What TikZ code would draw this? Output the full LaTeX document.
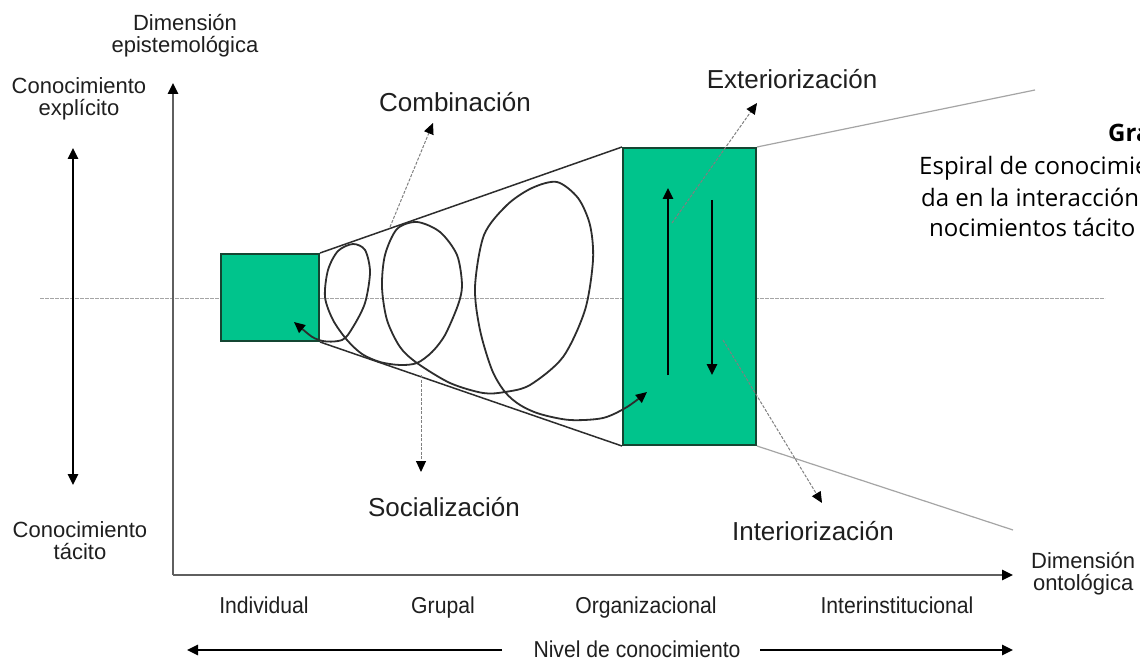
\documentclass[tikz,border=0pt]{standalone}
\usepackage{fontspec}
\setmainfont{Liberation Sans}
\newfontfamily\narrowf[FakeStretch=0.92]{Liberation Sans}
\newfontfamily\capf{Open Sans}
\usetikzlibrary{arrows.meta}
\definecolor{boxgreen}{RGB}{0,196,140}
\definecolor{boxedge}{RGB}{20,70,50}
\definecolor{axisgray}{RGB}{95,95,95}
\definecolor{guidegray}{RGB}{165,165,165}
\definecolor{linedark}{RGB}{45,45,45}
\tikzset{
 tipend/.style={-{Triangle[length=11pt,width=10pt,color=black]}},
 greenbox/.style={draw=boxedge, line width=2pt, fill=boxgreen, inner sep=0pt},
 axisline/.style={draw=axisgray, line width=2.5pt, tipend},
 blackarrow/.style={draw=black, line width=2.5pt, tipend},
 dblarrow/.style={draw=black, line width=2.5pt, {Triangle[length=11pt,width=10pt]}-{Triangle[length=11pt,width=10pt]}},
 coneline/.style={draw=linedark, line width=1.5pt},
 conext/.style={draw=guidegray, line width=1.2pt},
 midline/.style={draw=guidegray, line width=1pt, dash pattern=on 4pt off 1pt},
 pointer/.style={draw=gray, line width=1pt, dash pattern=on 3pt off 1.5pt, tipend},
 spiral/.style={draw=linedark, line width=1.8pt, {Triangle[length=11pt,width=10pt,color=black]}-{Triangle[length=11pt,width=10pt,color=black]}},
 biglabel/.style={font=\fontsize{26}{28}\selectfont, inner sep=0pt, anchor=base, text=black!88},
 smalllabel/.style={font=\fontsize{22}{22}\selectfont, align=center, inner sep=0pt, text=black!88},
 levellabel/.style={font=\narrowf\fontsize{23}{25}\selectfont, inner sep=0pt, anchor=base, text=black!88},
 captext/.style={font=\capf\fontsize{24}{26}\selectfont, inner sep=0pt, anchor=base west},
 captitle/.style={font=\capf\bfseries\fontsize{24}{26}\selectfont, inner sep=0pt, anchor=base west},
}
\begin{document}
\begin{tikzpicture}[x=1pt,y=-1pt]
\useasboundingbox (0,0) rectangle (1140,660);
\fill[white] (0,0) rectangle (1140,660);
\clip (0,0) rectangle (1140,660);

% dotted middle line
\coordinate (ml) at (40,298);
\coordinate (mr) at (1105,298);
\draw[midline] (ml) -- (mr);

% axes
\coordinate (O) at (173,575);
\coordinate (ytop) at (173,83);
\coordinate (xend) at (1013,575);
\draw[axisline] (O) -- (ytop);
\draw[axisline] (O) -- (xend);

% left double arrow
\coordinate (lt) at (73,148);
\coordinate (lb) at (73,485);
\draw[dblarrow] (lb) -- (lt);

% level arrows
\coordinate (nl) at (187,650);
\coordinate (nla) at (502,650);
\coordinate (nrb) at (760,650);
\coordinate (nr) at (1013,650);
\draw[blackarrow] (nla) -- (nl);
\draw[blackarrow] (nrb) -- (nr);

% green boxes
\node[greenbox, minimum width=98pt, minimum height=87pt] (ind) at (270,297.5) {};
\node[greenbox, minimum width=133pt, minimum height=297pt] (org) at (689.5,296.5) {};

% cone
\draw[coneline] (ind.north east) -- (org.north west);
\draw[coneline] (ind.south east) -- (org.south west);
\coordinate (ute) at (1035,90);
\coordinate (lte) at (1013,530);
\draw[conext] (org.north east) -- (ute);
\draw[conext] (org.south east) -- (lte);

% spiral
\draw[spiral] plot[smooth, tension=0.5] coordinates {
 (294,322) (319,340) (342,340) (353,327) (365,303) (370,272) (365,250) (353,244)
 (338,251) (328,270) (325,297) (333,320) (347,340) (362,354) (380,362) (400,365)
 (417,363) (432,352) (445,335) (458,305) (462,285) (457,255) (440,232) (417,222)
 (397,229) (385,255) (382,287) (387,320) (400,347) (417,363) (450,383) (483,393)
 (505,392) (530,385) (563,357) (585,310) (593,260) (590,225) (578,198) (557,182)
 (532,188) (507,205) (484,235) (475,287) (480,330) (492,370) (505,392) (520,405)
 (540,414) (570,420) (603,418) (627,407) (647,392)};

% inner arrows of big box
\coordinate (ua) at (668,375);
\coordinate (ub) at (668,188);
\coordinate (da) at (712,200);
\coordinate (db) at (712,375);
\draw[blackarrow] (ua) -- (ub);
\draw[blackarrow] (da) -- (db);

% pointers
\coordinate (combS) at (390,227);
\coordinate (combT) at (433,123);
\coordinate (socS) at (421,375);
\coordinate (socT) at (421,472);
\coordinate (extS) at (672,223);
\coordinate (extT) at (757,103);
\coordinate (intS) at (723,340);
\coordinate (intT) at (822,503);
\draw[pointer] (combS) -- (combT);
\draw[pointer] (socS) -- (socT);
\draw[pointer] (extS) -- (extT);
\draw[pointer] (intS) -- (intT);

% labels
\node[biglabel] (comb) at (455,112) {Combinación};
\node[biglabel] (ext) at (792,89) {Exteriorización};
\node[biglabel] (soc) at (444,516) {Socialización};
\node[biglabel] (int) at (813,540) {Interiorización};

\node[smalllabel] (dimE) at (185,36) {Dimensión\\epistemológica};
\node[smalllabel] (conE) at (79,99) {Conocimiento\\explícito};
\node[smalllabel] (conT) at (80,541) {Conocimiento\\tácito};
\node[smalllabel, anchor=west] (dimO) at (1031,574) {Dimensión\\ontológica};

\node[levellabel] (l1) at (264,613) {Individual};
\node[levellabel] (l2) at (443,613) {Grupal};
\node[levellabel] (l3) at (646,613) {Organizacional};
\node[levellabel] (l4) at (897,613) {Interinstitucional};
\node[levellabel] (niv) at (637,657) {Nivel de conocimiento};

% clipped caption (cut at the right edge, as in the reference)
\node[captitle] (c0) at (1108,142) {Gra};
\node[captext] (c1) at (919,175) {Espiral de conocimie};
\node[captext] (c2) at (921,207) {da en la interacción};
\node[captext] (c3) at (929,237) {nocimientos tácito};
\end{tikzpicture}
\end{document}
